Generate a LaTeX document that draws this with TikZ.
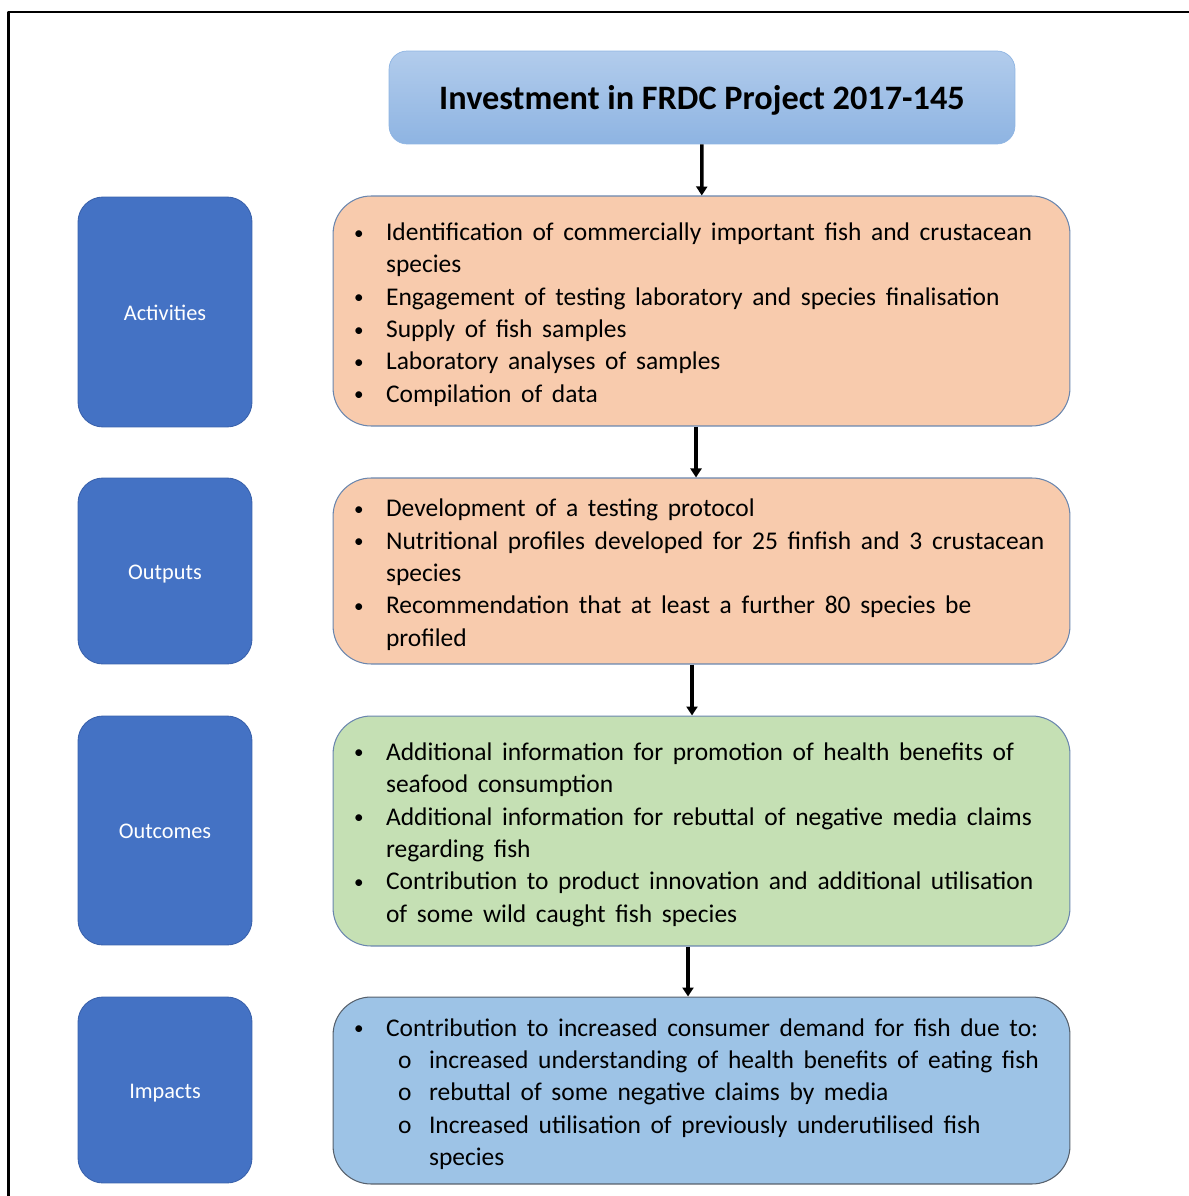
\documentclass[tikz,border=0pt]{standalone}
\usepackage{fontspec}
\setmainfont{Carlito}
\usetikzlibrary{arrows.meta}
\definecolor{stageblue}{HTML}{4472C4}
\definecolor{stageline}{HTML}{3A62AC}
\definecolor{peach}{HTML}{F8CBAD}
\definecolor{leaf}{HTML}{C5E0B4}
\definecolor{sky}{HTML}{9DC3E6}
\definecolor{edgeblue}{HTML}{6A86AE}
\definecolor{edgegrey}{HTML}{56606C}
\definecolor{titletop}{HTML}{B2CCEC}
\definecolor{titlebot}{HTML}{8EB4E2}
\newcommand{\widespace}{\spaceskip=5.5pt\relax\xspaceskip=5.5pt\relax}
\newcommand{\bul}{\makebox[0.66cm][l]{\hspace*{0.02cm}\raisebox{0.06em}{\scalebox{0.75}{\textbullet}}}}
\newcommand{\ind}{\hspace*{0.66cm}}
\newcommand{\subbul}{\hspace*{0.9cm}\makebox[0.62cm][l]{o}}
\newcommand{\topline}{\rule{0pt}{0.5cm}}
\begin{document}
\begin{tikzpicture}[x=0.02cm, y=-0.02cm, line join=round, >={Triangle[length=0.18cm,width=0.22cm]},
	stage/.style={rounded corners=0.5cm, fill=stageblue, draw=stageline, line width=0.5pt, text=white,
		minimum width=3.48cm, inner sep=0pt, text height=0.32cm, text depth=0cm,
		font=\fontsize{12.7}{15}\selectfont},
	content/.style={rounded corners=0.76cm, draw=edgeblue, line width=0.6pt, text width=13.94cm,
		inner xsep=0.4cm, inner ysep=0pt, align=left, font=\fontsize{14.5}{18.4}\selectfont},
	flow/.style={->, line width=2pt}]
	\useasboundingbox (0,0) rectangle (1189,1196);
	\draw[line width=1.2pt] (8.5,1196) |- (1189,12);
	% header
	\node[rounded corners=0.36cm, draw=titlebot, top color=titletop, bottom color=titlebot,
		minimum width=12.52cm, minimum height=1.86cm, text height=0.6cm, text depth=0.1cm,
		font=\fontsize{19.5}{23}\selectfont\bfseries]
		(title) at (702,97.5) {Investment in FRDC Project 2017-145};
	% left column
	\node[stage, minimum height=4.6cm] (lact) at (165,312) {Activities};
	\node[stage, minimum height=3.72cm] (lout) at (165,571) {Outputs};
	\node[stage, minimum height=4.58cm] (loutc) at (165,830.5) {Outcomes};
	\node[stage, minimum height=3.72cm] (limp) at (165,1090) {Impacts};
	% right column
	\node[content, fill=peach, minimum height=4.6cm] (act) at (701.5,311) {\widespace
		\topline\bul Identification of commercially important fish and crustacean\\
		\ind species\\
		\bul Engagement of testing laboratory and species finalisation\\
		\bul Supply of fish samples\\
		\bul Laboratory analyses of samples\\
		\bul Compilation of data};
	\node[content, fill=peach, minimum height=3.72cm] (out) at (701.5,571) {\widespace
		\topline\bul Development of a testing protocol\\
		\bul Nutritional profiles developed for 25 finfish and 3 crustacean\\
		\ind species\\
		\bul Recommendation that at least a further 80 species be\\
		\ind profiled};
	\node[content, fill=leaf, minimum height=4.6cm] (outc) at (701.5,831) {\widespace
		\topline\bul Additional information for promotion of health benefits of\\
		\ind seafood consumption\\
		\bul Additional information for rebuttal of negative media claims\\
		\ind regarding fish\\
		\bul Contribution to product innovation and additional utilisation\\
		\ind of some wild caught fish species};
	\node[content, fill=sky, draw=edgegrey, minimum height=3.74cm] (imp) at (701.5,1090.5) {\widespace
		\topline\bul Contribution to increased consumer demand for fish due to:\\
		\subbul increased understanding of health benefits of eating fish\\
		\subbul rebuttal of some negative claims by media\\
		\subbul Increased utilisation of previously underutilised fish\\
		\hspace*{1.52cm}species};
	% arrows
	\draw[flow] (title) -- (act);
	\draw[flow] ([xshift=-0.11cm]act.south) -- ([xshift=-0.11cm]out.north);
	\draw[flow] ([xshift=-0.19cm]out.south) -- ([xshift=-0.19cm]outc.north);
	\draw[flow] ([xshift=-0.27cm]outc.south) -- ([xshift=-0.27cm]imp.north);
\end{tikzpicture}
\end{document}
